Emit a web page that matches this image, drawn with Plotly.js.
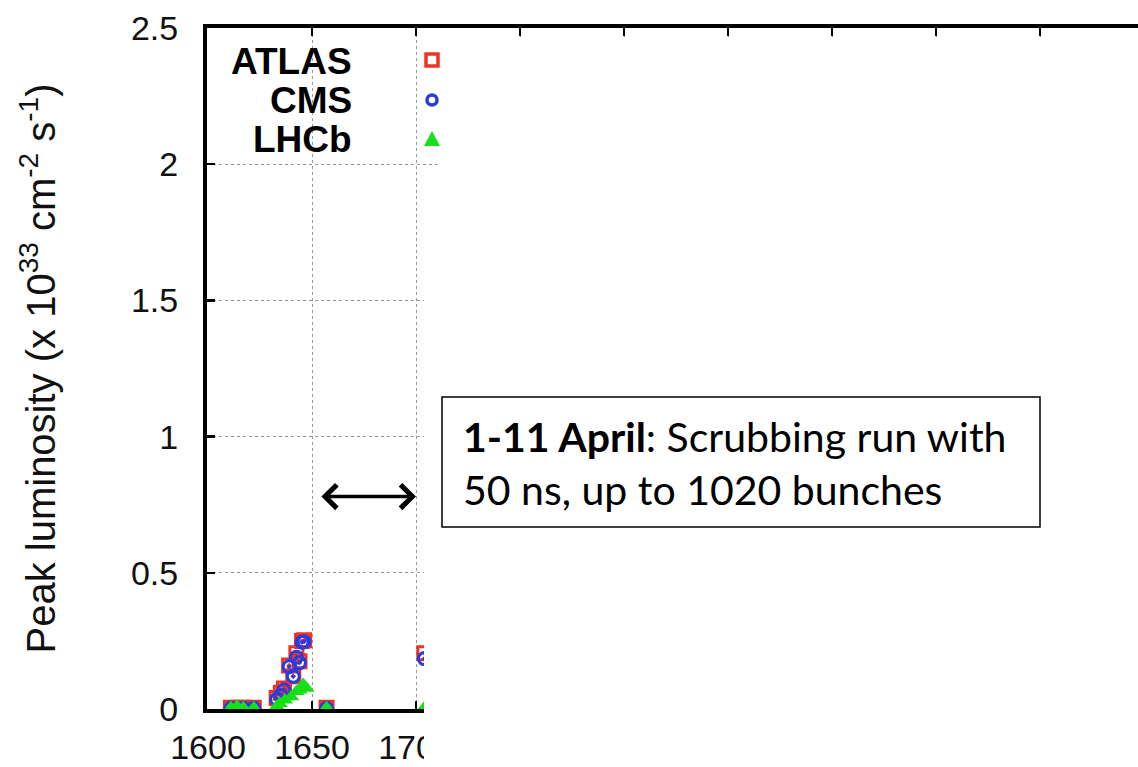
<!DOCTYPE html>
<html>
<head>
<meta charset="utf-8">
<script src="https://cdn.plot.ly/plotly-3.0.1.min.js"></script>
<style>
html,body{margin:0;padding:0;background:#fff;}
#chart{width:1138px;height:767px;}
</style>
</head>
<body>
<div id="chart"></div>
<script>
// ---- data ----
const atlasX = [1611, 1614, 1617, 1622, 1633, 1635, 1636.5, 1639, 1641, 1642.5, 1644, 1645.2, 1646.2, 1657, 1704];
const atlasY = [0.005, 0.005, 0.005, 0.005, 0.04, 0.06, 0.075, 0.16, 0.12, 0.205, 0.175, 0.25, 0.252, 0.005, 0.205];
const cmsX   = [1611, 1614, 1617, 1622, 1633, 1635, 1636.5, 1639, 1641, 1642.5, 1644, 1645.2, 1646.2, 1657, 1704];
const cmsY   = [0.003, 0.003, 0.003, 0.003, 0.035, 0.05, 0.07, 0.155, 0.12, 0.19, 0.17, 0.245, 0.247, 0.003, 0.185];
const lhcbX  = [1611, 1614, 1617, 1622, 1633, 1634.5, 1637, 1640, 1642.5, 1644, 1645.8, 1647.4, 1657, 1704];
const lhcbY  = [0.005, 0.01, 0.005, 0.005, 0.01, 0.02, 0.033, 0.045, 0.064, 0.07, 0.09, 0.076, 0.005, 0.005];
const seriesNames = ["ATLAS", "CMS", "LHCb"];
const xTickStep = 50;
const yTickStep = 0.5;
const yTitle = "Peak luminosity (x 10<sup>33</sup> cm<sup>-2</sup> s<sup>-1</sup>)";
const boxText = "<b>1-11 April</b>: Scrubbing run with<br>50 ns, up to 1020 bunches";

// ---- layout helpers (pixel -> paper) ----
const L = 207, T = 28, PW = 931, PH = 681;
const px = p => (p - L) / PW;
const py = p => (T + PH - p) / PH;

const red = "#ee3322", blue = "#2a3be0", green = "#16e016";

const traces = [
  {x: atlasX, y: atlasY, name: seriesNames[0], type: "scatter", mode: "markers",
   marker: {symbol: "square-open-dot", size: 13, color: red, line: {width: 3, color: red}}},
  {x: cmsX, y: cmsY, name: seriesNames[1], type: "scatter", mode: "markers",
   marker: {symbol: "circle-open-dot", size: 12, color: blue, line: {width: 3, color: blue}}},
  {x: lhcbX, y: lhcbY, name: seriesNames[2], type: "scatter", mode: "markers",
   marker: {symbol: "triangle-up", size: 14, color: green, line: {width: 0}}}
];

const tickFont = {family: "Liberation Sans, Arial, sans-serif", size: 34, color: "#111"};

const shapes = [
  // white covers hiding the later part of the plot
  {type: "rect", xref: "paper", yref: "paper", x0: px(424), x1: 1.05, y0: -0.2, y1: py(175),
   fillcolor: "#fff", line: {width: 0}, layer: "above"},
  {type: "rect", xref: "paper", yref: "paper", x0: px(441), x1: 1.05, y0: py(176), y1: py(38),
   fillcolor: "#fff", line: {width: 0}, layer: "above"},
  // legend keys
  {type: "rect", xref: "paper", yref: "paper", x0: px(426), x1: px(438), y0: py(66), y1: py(54),
   fillcolor: "rgba(0,0,0,0)", line: {width: 3.5, color: red}, layer: "above"},
  {type: "circle", xref: "paper", yref: "paper", x0: px(427), x1: px(437), y0: py(105), y1: py(95),
   fillcolor: "rgba(0,0,0,0)", line: {width: 3.5, color: blue}, layer: "above"},
  {type: "path", xref: "paper", yref: "paper",
   path: `M ${px(424)} ${py(146)} L ${px(440)} ${py(146)} L ${px(432)} ${py(131)} Z`,
   fillcolor: green, line: {width: 0}, layer: "above"},
  // text box
  {type: "rect", xref: "paper", yref: "paper", x0: px(442), x1: px(1040), y0: py(527), y1: py(397),
   fillcolor: "#fff", line: {width: 1.5, color: "#000"}, layer: "above"}
];

const legendFont = {family: "Liberation Sans, Arial, sans-serif", size: 37, color: "#000", weight: "bold"};
const annotations = [
  {xref: "paper", yref: "paper", x: px(354), y: py(61), xanchor: "right", yanchor: "middle",
   text: "<b>" + seriesNames[0] + "</b>", showarrow: false, font: legendFont},
  {xref: "paper", yref: "paper", x: px(354), y: py(100), xanchor: "right", yanchor: "middle",
   text: "<b>" + seriesNames[1] + "</b>", showarrow: false, font: legendFont},
  {xref: "paper", yref: "paper", x: px(354), y: py(139), xanchor: "right", yanchor: "middle",
   text: "<b>" + seriesNames[2] + "</b>", showarrow: false, font: legendFont},
  // double arrow
  {xref: "x", yref: "y", axref: "x", ayref: "y", x: 1700, y: 0.78, ax: 1653.8, ay: 0.78,
   text: "", showarrow: true, arrowside: "end+start", arrowhead: 4, startarrowhead: 4,
   arrowsize: 1.3, startarrowsize: 1.3, arrowwidth: 3.5, arrowcolor: "#000", standoff: 0, startstandoff: 0},
  // text in box
  {xref: "paper", yref: "paper", x: px(461), y: py(463), xanchor: "left", yanchor: "middle", align: "left",
   text: boxText, showarrow: false, font: {family: "Lato, Carlito, sans-serif", size: 41, color: "#000"}}
];

const layout = {
  width: 1138, height: 767,
  margin: {l: L, r: 0, t: T, b: 767 - T - PH, pad: 0},
  paper_bgcolor: "#fff", plot_bgcolor: "#fff",
  showlegend: false,
  xaxis: {
    range: [1599.52, 1599.52 + PW / 2.08], dtick: xTickStep, tick0: 1600,
    showline: true, linewidth: 4, linecolor: "#000", mirror: "ticks",
    ticks: "inside", ticklen: 8, tickwidth: 2.5, tickcolor: "#000",
    showgrid: true, gridcolor: "#9a9a9a", gridwidth: 1, griddash: "dot",
    zeroline: false, tickfont: tickFont, ticklabelstandoff: 5
  },
  yaxis: {
    range: [0, 2.5], dtick: yTickStep, tick0: 0,
    showline: true, linewidth: 4, linecolor: "#000",
    ticks: "inside", ticklen: 8, tickwidth: 2.5, tickcolor: "#000",
    showgrid: true, gridcolor: "#9a9a9a", gridwidth: 1, griddash: "dot",
    zeroline: false, tickfont: tickFont, ticklabelstandoff: 18,
    title: {text: yTitle, font: {family: "Liberation Sans, Arial, sans-serif", size: 40, color: "#111"}, standoff: 64}
  },
  shapes: shapes,
  annotations: annotations
};

Plotly.newPlot("chart", traces, layout, {displayModeBar: false, staticPlot: true});
</script>
</body>
</html>
